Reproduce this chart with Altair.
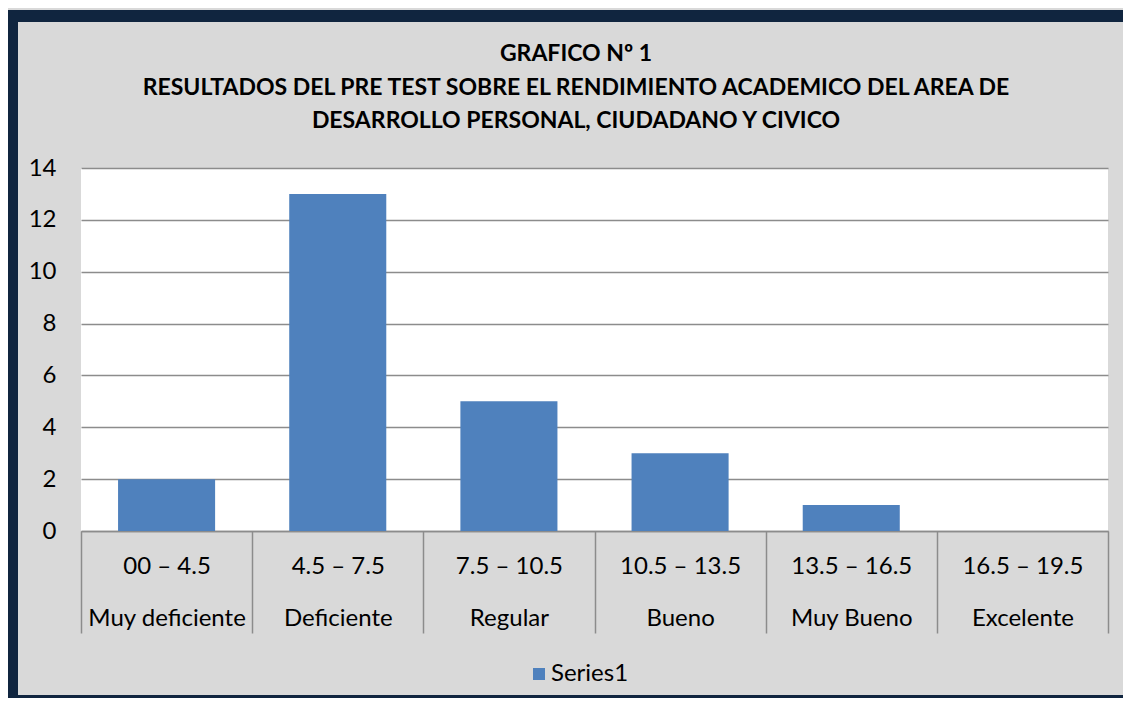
import altair as alt
import pandas as pd

rangos = ["00 – 4.5", "4.5 – 7.5", "7.5 – 10.5", "10.5 – 13.5", "13.5 – 16.5", "16.5 – 19.5"]
niveles = ["Muy deficiente", "Deficiente", "Regular", "Bueno", "Muy Bueno", "Excelente"]
valores = [2, 13, 5, 3, 1, 0]
serie = "Series1"
titulo = [
    "GRAFICO Nº 1",
    "RESULTADOS DEL PRE TEST SOBRE EL RENDIMIENTO ACADEMICO DEL AREA DE",
    "DESARROLLO PERSONAL, CIUDADANO Y CIVICO",
]

cats = [f"{r}|{n}" for r, n in zip(rangos, niveles)]
df = pd.DataFrame({"cat": cats, "valor": valores, "serie": [serie] * len(cats)})

FONT = "Lato"
NAVY = "#10253f"
BLUE = "#4f81bd"
GRID = "#8c8c8c"
FS = 24

W, H = 1027, 363

bars = alt.Chart(df).mark_bar(color=BLUE, width=alt.RelativeBandSize(band=0.567)).encode(
    x=alt.X(
        "cat:N",
        sort=cats,
        title=None,
        scale=alt.Scale(paddingInner=0, paddingOuter=0),
        axis=alt.Axis(
            labelExpr="split(datum.label, '|')",
            labelAngle=0,
            labelFont=FONT,
            labelFontSize=FS,
            labelColor="black",
            labelLineHeight=52,
            labelPadding=-79,
            tickBand="extent",
            tickSize=102,
            tickColor=GRID,
            tickWidth=1.5,
            domainColor=GRID,
            domainWidth=1.5,
            grid=False,
        ),
    ),
    y=alt.Y(
        "valor:Q",
        title=None,
        scale=alt.Scale(domain=[0, 14], nice=False),
        axis=alt.Axis(
            values=[0, 2, 4, 6, 8, 10, 12, 14],
            labelFont=FONT,
            labelFontSize=FS,
            labelColor="black",
            labelPadding=25,
            ticks=False,
            domain=False,
            gridColor=GRID,
            gridWidth=1.5,
        ),
    ),
    color=alt.Color(
        "serie:N",
        scale=alt.Scale(range=[BLUE]),
        legend=alt.Legend(
            title=None,
            orient="none",
            legendX=446,
            legendY=494,
            padding=0,
            symbolType="square",
            symbolSize=144,
            symbolStrokeWidth=0,
            labelFont=FONT,
            labelFontSize=FS,
            labelColor="black",
            labelOffset=0,
        ),
    ),
)

dummy = pd.DataFrame({"d": [0]})


def strip(x, x2, y, y2):
    return alt.Chart(dummy).mark_rect(color=NAVY, clip=False).encode(
        x=alt.value(x), x2=alt.value(x2), y=alt.value(y), y2=alt.value(y2)
    )


left = strip(-75, -63, -158, 540)
top = strip(-75, 1050, -158, -146)
bottom = strip(-75, 1050, 527, 530)

title = alt.Chart(dummy).mark_text(
    font=FONT,
    fontSize=23,
    fontWeight="bold",
    color="black",
    lineHeight=33.5,
    align="center",
    baseline="middle",
).encode(text=alt.value(titulo), x=alt.value(495), y=alt.value(-114))

chart = alt.layer(bars, left, top, bottom, title).properties(
    width=W,
    height=H,
    background="#d9d9d9",
    padding={"left": 73, "top": 160, "right": 15, "bottom": 167},
    autosize=alt.AutoSizeParams(type="none"),
).configure_view(fill="white", stroke=None)

chart.save("out.html", embed_options={"renderer": "svg", "actions": False})
